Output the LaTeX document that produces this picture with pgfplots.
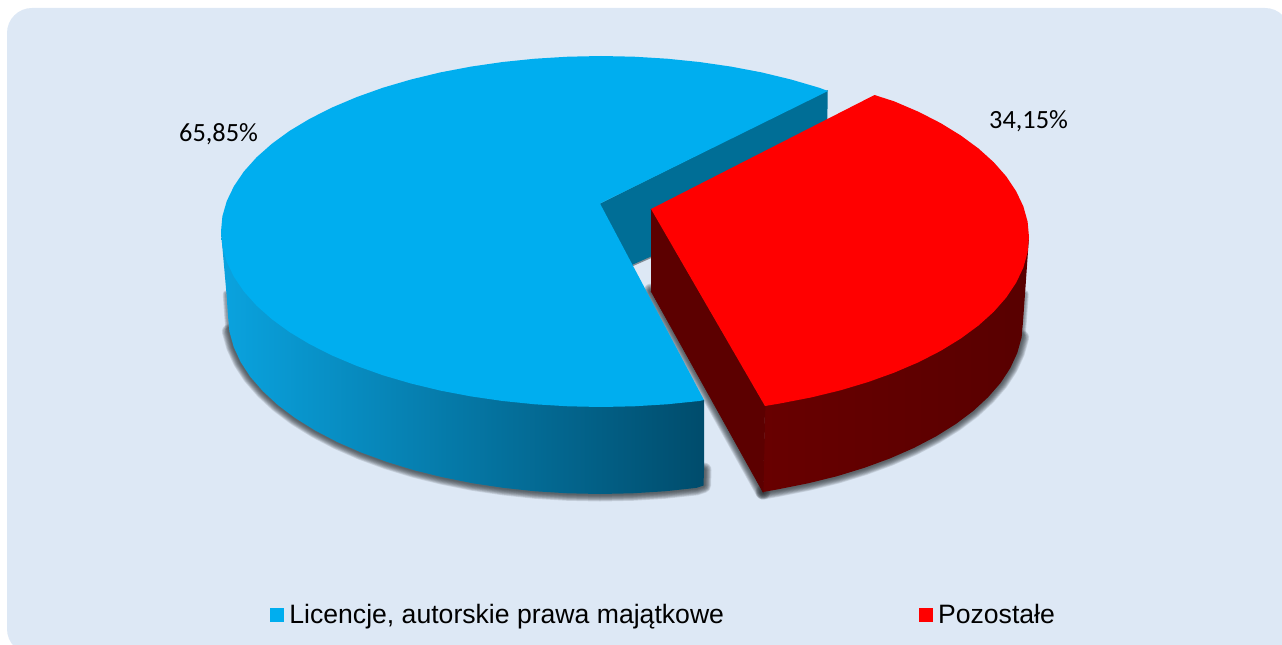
\documentclass[border=0pt]{standalone}
\usepackage{pgfplots}
\usepackage{pgfplotstable}
\usepackage{fontspec}
\setmainfont{Liberation Sans}
\newfontfamily\calibri{Carlito}
\pgfplotsset{compat=1.18}
\definecolor{bgc}{HTML}{DDE8F5}
\definecolor{bluetop}{HTML}{00AEEF}
\definecolor{blueback}{HTML}{006E96}
\definecolor{shadowc}{HTML}{2C3236}

\pgfplotstableread{
x y
828 91
819 87.7
791 79.5
761.6 72.4
731 66.6
699.3 62
667 58.7
634.1 56.7
601 56
567.9 56.7
535 58.7
502.7 62
471 66.6
440.4 72.4
411 79.5
383 87.7
356.7 97.1
332.3 107.4
309.9 118.7
289.7 130.8
271.9 143.75
256.6 157.3
243.9 171.5
234 186.1
226.8 201
222.4 216.2
221 231.5
222.4 246.8
226.8 262
234 276.9
243.9 291.5
256.6 305.7
271.9 319.25
289.7 332.2
309.9 344.3
332.3 355.6
356.7 365.9
383 375.3
411 383.5
440.4 390.6
471 396.4
502.7 401
535 404.3
567.9 406.3
601 407
634.1 406.3
667 404.3
699.3 401
704 400
600 203.5
}\blueTop

\pgfplotstableread{
x y
221 231.5
226.5 294
228 316
229.4 331.5
233.7 346.9
240.7 362.1
250.4 376.9
262.9 391.2
277.8 405
295.3 418.1
315 430.4
337 441.9
360.9 452.4
386.6 461.8
414 470.2
442.8 477.3
472.8 483.3
503.7 487.9
535.4 491.3
567.6 493.3
600 494
632.4 493.3
664.6 491.3
696.3 487.9
703.5 485.5
704 470
704 400
}\blueSide

\pgfplotstableread{
x y
600 203.5
827.7 90
826.7 179
600 279
}\blueBack

\pgfplotstableread{
x y
651 209
874.5 95
894.3 101.4
918.6 111.8
940.8 123.2
960.8 135.5
978.5 148.5
993.7 162.2
1006.3 176.5
1016.1 191.2
1023.3 206.3
1027.6 221.6
1029 237
1027.6 252.4
1023.3 267.7
1016.1 282.8
1006.3 297.5
993.7 311.8
978.5 325.5
960.8 338.5
940.8 350.8
918.6 362.2
894.3 372.6
868.2 382
840.5 390.3
811.3 397.4
780.9 403.3
765 406
}\redTop

\pgfplotstableread{
x y
1029 237
1025 294
1023 322
1021.6 337.5
1017.3 352.9
1010.3 368.1
1000.6 382.9
988.1 397.2
973.2 411
955.7 424.1
936 436.4
914 447.9
890.1 458.4
864.4 467.8
837 476.2
808.2 483.3
778.2 489.3
763 492
765 406
}\redSide

\pgfplotstableread{
x y
651 209
765 406
763 492
651 291
}\redLeft

\begin{document}
\begin{tikzpicture}
\useasboundingbox (0,0) rectangle (1282pt,645pt);
\fill[bgc,rounded corners=25pt] (7pt,-9pt) rectangle (1290pt,637pt);
\begin{axis}[
  at={(0,0)},anchor=south west,
  scale only axis,width=1282pt,height=645pt,
  xmin=0,xmax=1282,ymin=0,ymax=645,y dir=reverse,
  hide axis,clip=false,
  legend columns=2,
  legend cell align=left,
  legend style={at={(axis cs:270,615)},anchor=west,draw=none,fill=none,inner sep=0pt,outer sep=0pt,
    font=\fontsize{26.6}{30}\selectfont,
    nodes={inner sep=0pt,outer sep=0pt},
    /tikz/column 1/.style={column sep=5pt},
    /tikz/column 2/.style={column sep=194.6pt},
    /tikz/column 3/.style={column sep=5pt}},
  legend image code/.code={\fill[#1,draw=none] (0pt,-7.2pt) rectangle (14.4pt,7.2pt);},
]
% shadows: the wider bands start lower, so the shadow tapers in
\pgfplotsinvokeforeach{15,13.5,12,10.5,9}{
  \addplot[forget plot,draw=shadowc,opacity=0.13,line width=#1pt,line join=round,line cap=round,
    skip coords between index={0}{3},skip coords between index={26}{27}] table[x=x,y=y] {\blueSide};
  \addplot[forget plot,draw=shadowc,opacity=0.13,line width=#1pt,line join=round,line cap=round,
    skip coords between index={0}{3},skip coords between index={18}{19}] table[x=x,y=y] {\redSide};
}
\pgfplotsinvokeforeach{7.5,6,4.5,3}{
  \addplot[forget plot,draw=shadowc,opacity=0.13,line width=#1pt,line join=round,line cap=round,
    skip coords between index={0}{1},skip coords between index={26}{27}] table[x=x,y=y] {\blueSide};
  \addplot[forget plot,draw=shadowc,opacity=0.13,line width=#1pt,line join=round,line cap=round,
    skip coords between index={0}{1},skip coords between index={18}{19}] table[x=x,y=y] {\redSide};
}
\pgfplotsinvokeforeach{15,13.5,12,10.5,9,7.5,6,4.5,3}{
  \addplot[forget plot,draw=shadowc,opacity=0.13,line width=#1pt,line join=round,line cap=round,
    skip coords between index={0}{2}] table[x=x,y=y] {\redLeft};
}
\addplot[forget plot,draw=shadowc,opacity=0.5,line width=3pt] table[x=x,y=y,skip coords between index={0}{2}] {\blueBack};
% blue
\addplot[forget plot,fill=blueback,draw=none] table[x=x,y=y] {\blueBack};
\addplot[forget plot,draw=none,left color={rgb,255:red,10;green,163;blue,223},middle color={rgb,255:red,0;green,120;blue,165},right color={rgb,255:red,0;green,76;blue,108}] table[x=x,y=y] {\blueSide};
\addplot[forget plot,fill=bluetop,draw=none] table[x=x,y=y] {\blueTop};
% red
\addplot[forget plot,draw=none,left color={rgb,255:red,104;green,0;blue,0},right color={rgb,255:red,88;green,0;blue,0}] table[x=x,y=y] {\redSide};
\addplot[forget plot,fill={rgb,255:red,92;green,0;blue,0},draw={rgb,255:red,92;green,0;blue,0},line width=0.7pt] table[x=x,y=y] {\redLeft};
\addplot[forget plot,fill=red,draw=none] table[x=x,y=y] {\redTop};
% labels
\node[anchor=base west,inner sep=0pt,font=\calibri\fontsize{26.3}{30}\selectfont] at (axis cs:179,141.7) {65,85\%};
\node[anchor=base west,inner sep=0pt,font=\calibri\fontsize{26.3}{30}\selectfont] at (axis cs:989,128.3) {34,15\%};
% legend
\addlegendimage{fill=bluetop}
\addlegendentry{Licencje, autorskie prawa majątkowe}
\addlegendimage{fill=red}
\addlegendentry{Pozostałe}
\end{axis}
\end{tikzpicture}
\end{document}
